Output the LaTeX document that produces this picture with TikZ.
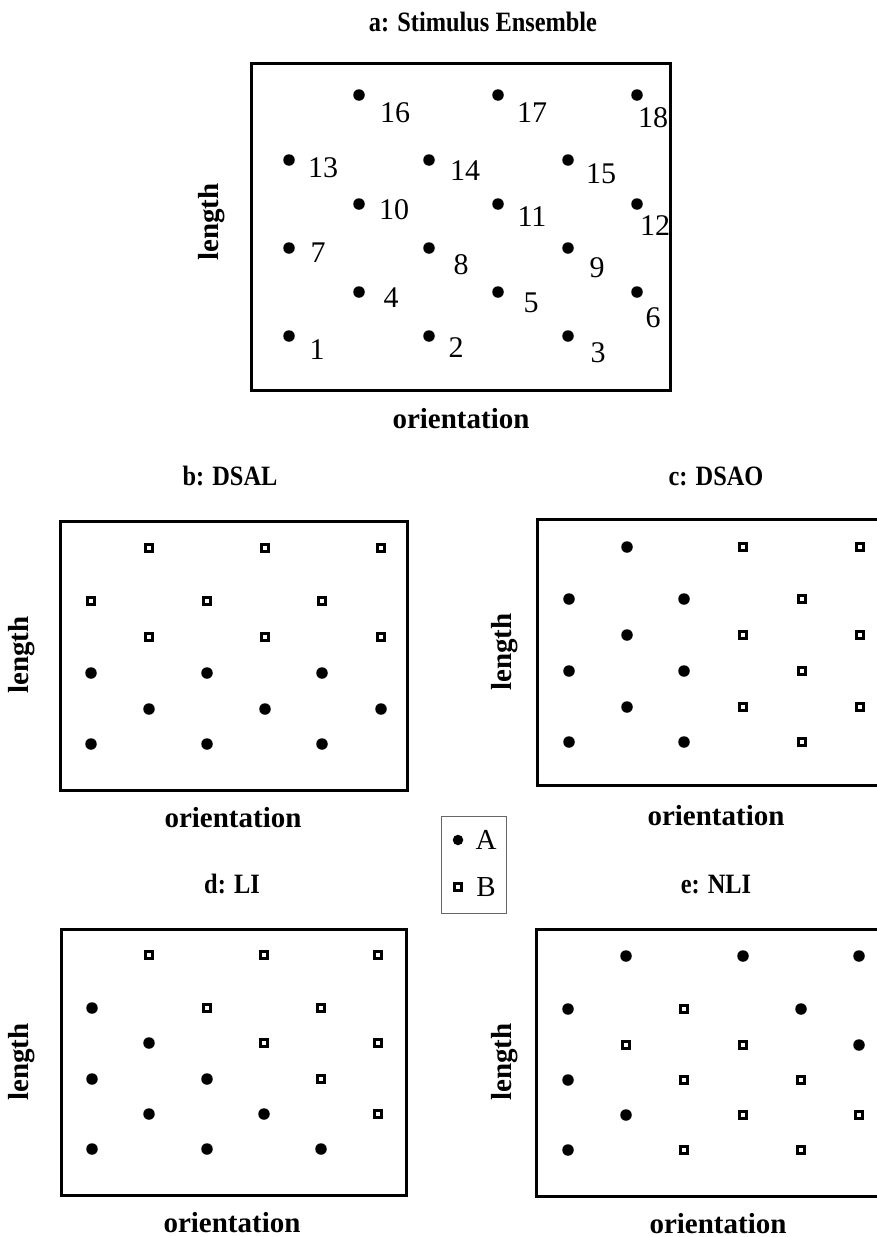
\documentclass[tikz,border=0pt]{standalone}
\usepackage{fontspec}
\usepackage{graphicx}
\setmainfont{Liberation Serif}
\newcommand{\narrowtitle}[1]{\scalebox{0.87}[1]{#1}}
\begin{document}
\begin{tikzpicture}[x=1pt,y=-1pt,
  panelframe/.style={draw=black,line width=3pt},
  itemA/.style={circle,fill=black,inner sep=0pt,minimum size=11.5pt},
  itemB/.style={rectangle,draw=black,fill=white,line width=2.7pt,inner sep=0pt,minimum size=6.8pt},
  num/.style={inner sep=0pt,font=\fontsize{30}{32}\selectfont},
  ptitle/.style={inner sep=0pt,anchor=base,font=\fontsize{28}{30}\selectfont\bfseries},
  axis/.style={inner sep=0pt,font=\fontsize{29}{31}\selectfont\bfseries},
  legtext/.style={inner sep=0pt,font=\fontsize{29}{31}\selectfont}]
\useasboundingbox (0,0) rectangle (877,1237);

% ---------- a: stimulus ensemble ----------
\node[ptitle] (ta) at (483,31) {\narrowtitle{a: Stimulus Ensemble}};
\draw[panelframe] (251,63) rectangle (670,390);
\foreach \n/\x/\y/\lx/\ly in {
  1/289/336/317/350, 2/429/336/456/348, 3/568/336/598/353,
  4/359/292/391/298, 5/498/292/531/303, 6/637/292/653/318,
  7/289/248/318/253, 8/429/248/461/265, 9/568/248/597/268,
  10/359/204/394/210, 11/498/204/532/217, 12/637/204/655/226,
  13/289/160/323/168, 14/429/160/465/171, 15/568/160/601/174,
  16/359/95/395/113, 17/498/95/532/113, 18/637/95/653/118}{
  \node[itemA] (a\n) at (\x,\y) {};
  \node[num] (la\n) at (\lx,\ly) {\n};
}
\node[axis,anchor=base] (xa) at (461,428) {orientation};
\node[axis,rotate=90] (ya) at (212,222) {length};

% ---------- b: DSAL ----------
\node[ptitle] (tb) at (230,485) {\narrowtitle{b: DSAL}};
\draw[panelframe] (60,521) rectangle (407,790);
\foreach \x/\y/\k [count=\i] in {
  149/548/B, 265/548/B, 381/548/B,
  91/601/B, 207/601/B, 322/601/B,
  149/637/B, 265/637/B, 381/637/B,
  91/673/A, 207/673/A, 322/673/A,
  149/709/A, 265/709/A, 381/709/A,
  91/744/A, 207/744/A, 322/744/A}{
  \node[item\k] (b\i) at (\x,\y) {};
}
\node[axis,anchor=base] (xb) at (233,827) {orientation};
\node[axis,rotate=90] (yb) at (22,655) {length};

% ---------- c: DSAO ----------
\node[ptitle] (tc) at (716,485) {\narrowtitle{c: DSAO}};
\draw[panelframe] (537,519) rectangle (905,785);
\foreach \x/\y/\k [count=\i] in {
  627/547/A, 743/547/B, 860/547/B,
  569/599/A, 684/599/A, 802/599/B,
  627/635/A, 743/635/B, 860/635/B,
  569/671/A, 684/671/A, 802/671/B,
  627/707/A, 743/707/B, 860/707/B,
  569/742/A, 684/742/A, 802/742/B}{
  \node[item\k] (c\i) at (\x,\y) {};
}
\node[axis,anchor=base] (xc) at (716,825) {orientation};
\node[axis,rotate=90] (yc) at (505,652) {length};

% ---------- legend ----------
\draw[draw=black!60,line width=1pt] (441,816) rectangle (506,913);
\node[itemA,minimum size=10.5pt] (lgA) at (458,840) {};
\node[legtext] (lgAt) at (486,840) {A};
\node[itemB] (lgB) at (458,887) {};
\node[legtext] (lgBt) at (486,887) {B};

% ---------- d: LI ----------
\node[ptitle] (td) at (232,893) {\narrowtitle{d: LI}};
\draw[panelframe] (61,929) rectangle (406,1195);
\foreach \x/\y/\k [count=\i] in {
  149/955/B, 264/955/B, 378/955/B,
  92/1008/A, 207/1008/B, 321/1008/B,
  149/1043/A, 264/1043/B, 378/1043/B,
  92/1079/A, 207/1079/A, 321/1079/B,
  149/1114/A, 264/1114/A, 378/1114/B,
  92/1149/A, 207/1149/A, 321/1149/A}{
  \node[item\k] (d\i) at (\x,\y) {};
}
\node[axis,anchor=base] (xd) at (232,1232) {orientation};
\node[axis,rotate=90] (yd) at (22,1062) {length};

% ---------- e: NLI ----------
\node[ptitle] (te) at (716,893) {\narrowtitle{e: NLI}};
\draw[panelframe] (536,929) rectangle (905,1196);
\foreach \x/\y/\k [count=\i] in {
  626/956/A, 743/956/A, 859/956/A,
  568/1009/A, 684/1009/B, 801/1009/A,
  626/1045/B, 743/1045/B, 859/1045/A,
  568/1080/A, 684/1080/B, 801/1080/B,
  626/1115/A, 743/1115/B, 859/1115/B,
  568/1150/A, 684/1150/B, 801/1150/B}{
  \node[item\k] (e\i) at (\x,\y) {};
}
\node[axis,anchor=base] (xe) at (718,1233) {orientation};
\node[axis,rotate=90] (ye) at (505,1062) {length};
\end{tikzpicture}
\end{document}
